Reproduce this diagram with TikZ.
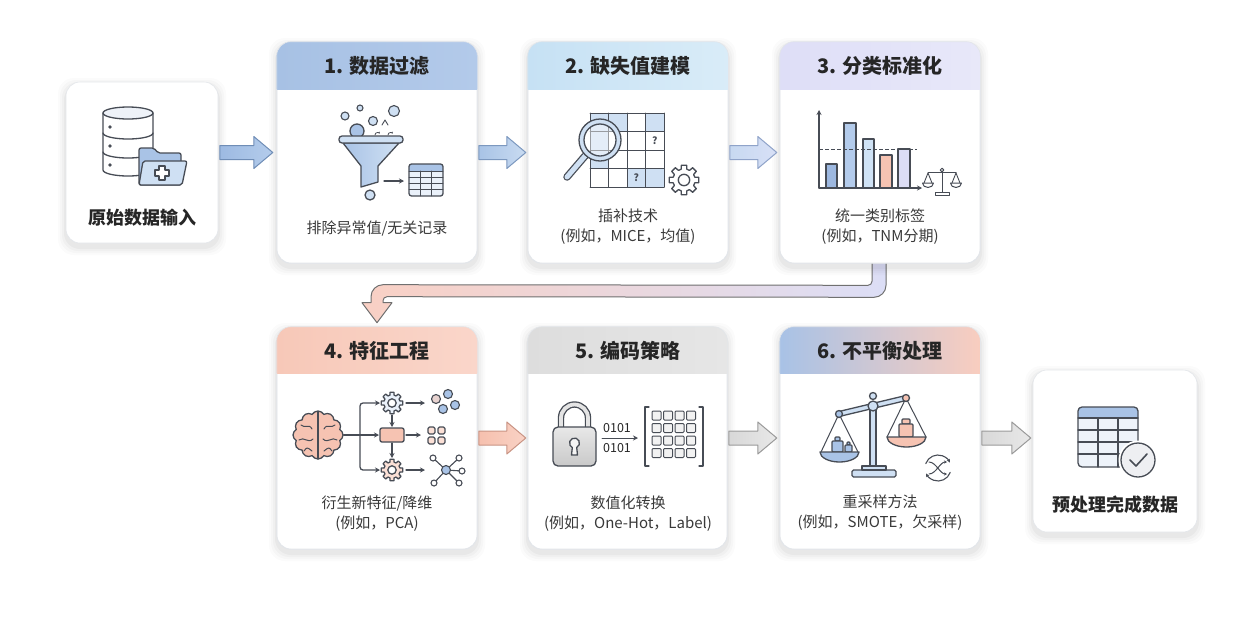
\documentclass[tikz,border=0pt]{standalone}
\usepackage{fontspec}
\setmainfont{Noto Sans CJK SC}
\usetikzlibrary{calc,arrows.meta,shapes.symbols}
\pgfdeclarelayer{back}
\pgfsetlayers{back,main}
\definecolor{ink}{HTML}{474C55}
\definecolor{bl}{HTML}{A9C3E6}
\definecolor{bll}{HTML}{CFE0F3}
\definecolor{sal}{HTML}{F6C3B2}
\definecolor{lav}{HTML}{DCDDF5}
\definecolor{txt}{HTML}{262626}
\definecolor{txtb}{HTML}{3A3A3A}
\definecolor{cardline}{HTML}{E3E6EA}
\newcommand\dc[1]{\definecolor{c#1}{HTML}{#1}}
\dc{A7C1E4}\dc{B3CAEA}\dc{C6E1F4}\dc{D9ECF8}\dc{DEDEF7}\dc{E8E8F9}\dc{F7C8B8}\dc{FAD6CA}
\dc{DDDDDD}\dc{E6E6E6}\dc{A8C2E6}\dc{F9CDBF}\dc{9DBAE2}\dc{B4CCEB}\dc{6F8DB6}\dc{A8C3E6}
\dc{C9DBF1}\dc{7C98BF}\dc{C7D9F1}\dc{D8E0F6}\dc{8FA3C9}\dc{F6C0AE}\dc{F9D2C5}\dc{C99484}
\dc{D8D8D8}\dc{E8E8E8}\dc{9A9A9A}\dc{F9D0C4}\dc{DCDEF6}\dc{707070}\dc{EEF2F8}\dc{EAF1FA}
\dc{9DB8E0}\dc{B3CBEB}\dc{CFE2F5}\dc{FBE0D6}\dc{E8D3D0}\dc{E4E4E4}\dc{F4F4F4}\dc{F2F2F2}
\dc{EEF3FA}\dc{EEEFF2}\dc{C9C9C9}

\newcommand{\mycard}[5]{%
  \foreach \k/\o in {8/0.015,6/0.02,4/0.025,2/0.03}{%
    \fill[black,opacity=\o,rounded corners=16pt] (#2-\k,#3-\k+4) rectangle (#4+\k,#5+\k+4);}
  \pgfmathsetmacro\cw{#4-#2}\pgfmathsetmacro\ch{#5-#3}%
  \node[card, minimum width=\cw pt, minimum height=\ch pt] (#1) at ({(#2+#4)/2},{(#3+#5)/2}) {};}

\newcommand{\myhdr}[3]{%
  \begin{scope}
    \clip[rounded corners=14pt] (#1.north west) rectangle (#1.south east);
    \path[#3] (#1.north west) rectangle ($(#1.north east)+(0,#2)$);
  \end{scope}
  \draw[cardline, line width=0.6pt, rounded corners=14pt] (#1.north west) rectangle (#1.south east);}

\newcommand{\myarrow}[4]{%
  \path[#4] ($(#1.east |- #2.west)+(1.5,-7)$) -- ++({#3-19},0) -- ++(0,-9) -- ++(19,16) -- ++(-19,16) -- ++(0,-9) -- ++({19-#3},0) -- cycle;}

\newcommand{\mygear}[4]{%
  \begin{scope}[shift={(#1,#2)}]
    \draw[ico, fill=#4] (-15:#3*0.74) \foreach \a in {0,45,...,315}{ -- (\a-15:#3*0.74) -- (\a-10:#3) -- (\a+10:#3) -- (\a+15:#3*0.74)} -- cycle;
    \draw[ico, fill=white] (0,0) circle[radius=#3*0.38];
  \end{scope}}

\begin{document}
\begin{tikzpicture}[x=1pt,y=-1pt,
  card/.style={rectangle, rounded corners=14pt, fill=white, draw=cardline, line width=0.6pt, inner sep=0pt},
  ico/.style={draw=ink, line width=1.3pt, line join=round, line cap=round},
  icoarrow/.style={-{Stealth[length=5pt,width=5pt]}},
  title/.style={font=\bfseries\fontsize{20pt}{24pt}\selectfont, text=txt, inner sep=0pt},
  bigt/.style={font=\bfseries\fontsize{18pt}{22pt}\selectfont, text=txt, inner sep=0pt},
  body/.style={font=\fontsize{15pt}{20pt}\selectfont, text=txtb, align=center, inner sep=0pt}]

\begin{pgfonlayer}{back}
\fill[white] (0,0) rectangle (1240,619);
\end{pgfonlayer}
\useasboundingbox (0,0) rectangle (1240,619);

% cards
\mycard{b0}{66}{82}{218}{243}
\mycard{b1}{277}{42}{477}{263}
\mycard{b2}{528}{42}{728}{263}
\mycard{b3}{780}{42}{980}{263}
\mycard{b4}{277}{327}{477}{549}
\mycard{b5}{528}{327}{727}{549}
\mycard{b6}{780}{327}{980}{549}
\mycard{b7}{1033}{370}{1197}{532}

\myhdr{b1}{48}{left color=cA7C1E4, right color=cB3CAEA}
\myhdr{b2}{48}{left color=cC6E1F4, right color=cD9ECF8}
\myhdr{b3}{48}{left color=cDEDEF7, right color=cE8E8F9}
\myhdr{b4}{47}{left color=cF7C8B8, right color=cFAD6CA}
\myhdr{b5}{47}{left color=cDDDDDD, right color=cE6E6E6}
\myhdr{b6}{47}{left color=cA8C2E6, right color=cF9CDBF}

% titles
\node[title] (h1) at (377,66) {1. 数据过滤};
\node[title] (h2) at (628,66) {2. 缺失值建模};
\node[title] (h3) at (880,66) {3. 分类标准化};
\node[title] (h4) at (377,350.5) {4. 特征工程};
\node[title] (h5) at (628,350.5) {5. 编码策略};
\node[title] (h6) at (880,350.5) {6. 不平衡处理};

% texts
\node[bigt] (t0) at (142,218) {原始数据输入};
\node[body] (d1) at (377,228) {排除异常值/无关记录};
\node[body] (d2) at (628,227) {插补技术\\(例如，MICE，均值)};
\node[body] (d3) at (880,227) {统一类别标签\\(例如，TNM分期)};
\node[body] (d4) at (377,514) {衍生新特征/降维\\(例如，PCA)};
\node[body] (d5) at (628,514) {数值化转换\\(例如，One-Hot，Label)};
\node[body] (d6) at (880,513) {重采样方法\\(例如，SMOTE，欠采样)};
\node[bigt] (t7) at (1115,505) {预处理完成数据};

% block arrows
\myarrow{b0}{b1}{53}{left color=c9DBAE2, right color=cB4CCEB, draw=c6F8DB6, line width=1pt, line join=round}
\myarrow{b1}{b1}{47}{left color=cA8C3E6, right color=cC9DBF1, draw=c7C98BF, line width=1pt, line join=round}
\myarrow{b2}{b2}{47}{left color=cC7D9F1, right color=cD8E0F6, draw=c8FA3C9, line width=1pt, line join=round}
\myarrow{b4}{b4}{47}{left color=cF6C0AE, right color=cF9D2C5, draw=cC99484, line width=1pt, line join=round}
\myarrow{b5}{b5}{48}{left color=cD8D8D8, right color=cE8E8E8, draw=c9A9A9A, line width=1pt, line join=round}
\myarrow{b6}{b6}{49}{left color=cD8D8D8, right color=cE8E8E8, draw=c9A9A9A, line width=1pt, line join=round}

% bent connector b3 -> b4 (explicit arcs)
\begin{pgfonlayer}{back}
\path[left color=cF9D0C4, right color=cDCDEF6, draw=c707070, line width=1pt, line join=round]
  ($(b3.south)+(6,-8)$) -- ($(b3.south)+(6,22)$) arc[start angle=0,end angle=90,radius=12]
  -- ($(b4.north)+(10,-30)$) arc[start angle=-90,end angle=-180,radius=4]
  -- ($(b4.north)+(6,-24)$) -- ($(b4.north)+(15,-24)$) -- ($(b4.north)+(0,-4)$)
  -- ($(b4.north)+(-15,-24)$) -- ($(b4.north)+(-6,-24)$) -- ($(b4.north)+(-6,-30)$)
  arc[start angle=180,end angle=270,radius=12]
  -- ($(b3.south)+(-12,22)$) arc[start angle=90,end angle=0,radius=4]
  -- ($(b3.south)+(-8,-8)$) -- cycle;
\end{pgfonlayer}

% ---- icon 0: database + folder
\draw[ico, fill=white] (103,113) -- (103,170) arc[start angle=180,end angle=0,x radius=25,y radius=6] -- (153,113);
\draw[ico] (103,133) arc[start angle=180,end angle=0,x radius=25,y radius=6];
\draw[ico] (103,152) arc[start angle=180,end angle=0,x radius=25,y radius=6];
\draw[ico, fill=cEEF2F8] (128,113) ellipse[x radius=25,y radius=6];
\foreach \yy in {127,146,165} \fill[ink] (110,\yy) circle[radius=1.8];
\draw[ico, fill=bl, rounded corners=2pt] (139,185) -- (139,148) -- (154,148) -- (158,153) -- (181,153) -- (181,185) -- cycle;
\draw[ico, fill=bll, rounded corners=2pt] (139,185) -- (143,161) -- (187,161) -- (182,185) -- cycle;
\draw[ico, fill=white, line width=1.1pt] (159,166) -- (165,166) -- (165,170) -- (169,170) -- (169,176) -- (165,176) -- (165,180) -- (159,180) -- (159,176) -- (155,176) -- (155,170) -- (159,170) -- cycle;

% ---- icon 1: funnel
\draw[ico, fill=bl] (357,131) circle[radius=7];
\draw[ico, fill=bll, line width=1.1pt] (345,116) circle[radius=4];
\draw[ico, fill=bll, line width=1.1pt] (360,108) circle[radius=3];
\draw[ico, fill=bll, line width=1.1pt] (373,121) circle[radius=4.5];
\draw[ico, fill=bll, line width=1.1pt] (394,111) circle[radius=5.5];
\draw[ico, line width=0.9pt] (382,125) -- (385,120) -- (388,125);
\draw[ico, line width=0.8pt, -{Stealth[length=2pt,width=2pt]}] (375,135) arc[start angle=180,end angle=330,radius=2.5];
\draw[ico, line width=0.8pt, -{Stealth[length=2pt,width=2pt]}] (388,135) arc[start angle=180,end angle=330,radius=2.5];
\draw[ico, left color=bl, right color=bll] (343,143) -- (399,143) -- (378,166) -- (378,182) -- (361,187) -- (361,166) -- cycle;
\draw[ico, fill=bll, rounded corners=3pt] (339,136) rectangle (403,143);
\draw[ico, fill=bll] (370,195) circle[radius=5];
\draw[ico, icoarrow] (384,181) -- (404,181);
\begin{scope}
  \clip[rounded corners=2.5pt] (409,164) rectangle (443,196);
  \fill[cEAF1FA] (409,164) rectangle (443,196);
  \fill[bl] (409,164) rectangle (443,171);
\end{scope}
\foreach \xx in {420.3,431.7} \draw[ico, line width=0.9pt] (\xx,171) -- (\xx,196);
\foreach \yy in {171,177.25,183.5,189.75} \draw[ico, line width=0.9pt] (409,\yy) -- (443,\yy);
\draw[ico, rounded corners=2.5pt] (409,164) rectangle (443,196);

% ---- icon 2: grid + magnifier + gear
\foreach \r/\c in {0/0,0/1,0/3,1/0,2/0,3/2,3/3} \fill[bll] (590+18.5*\c,113+18.5*\r) rectangle ++(18.5,18.5);
\foreach \i in {0,...,4}{
  \draw[ico, line width=1pt] (590+18.5*\i,113) -- (590+18.5*\i,187);
  \draw[ico, line width=1pt] (590,113+18.5*\i) -- (664,113+18.5*\i);}
\node[font=\bfseries\fontsize{10pt}{10pt}\selectfont, text=ink, inner sep=0pt] (q1) at (654.75,140.75) {?};
\node[font=\bfseries\fontsize{10pt}{10pt}\selectfont, text=ink, inner sep=0pt] (q2) at (636.25,177.75) {?};
\draw[ink, line width=7.5pt, line cap=round] (585,156) -- (567,177);
\draw[bll, line width=5pt, line cap=round] (585,156) -- (567,177);
\fill[white, opacity=0.45] (600,140) circle[radius=15];
\draw[ico, fill=bll, even odd rule] (600,140) circle[radius=21] (600,140) circle[radius=16];
\mygear{684}{180}{15}{white}

% ---- icon 3: bar chart + small scale
\draw[ico, fill=c9DB8E0] (826,188) rectangle (837,164);
\draw[ico, fill=cB3CBEB] (844,188) rectangle (856,123);
\draw[ico, fill=cCFE2F5] (863,188) rectangle (874,139);
\draw[ico, fill=sal] (880,188) rectangle (892,155);
\draw[ico, fill=lav] (898,188) rectangle (910,149);
\draw[ink, line width=1pt, dash pattern=on 3.5pt off 2.5pt] (819,149) -- (917,149);
\draw[ico, icoarrow] (819,188) -- (819,110);
\draw[ico, icoarrow] (819,188) -- (922,188);
\draw[ico, line width=1pt] (942,170) -- (942,192);
\draw[ico, line width=1pt, fill=white] (935,192) rectangle (949,195);
\draw[ico, line width=1pt] (928,172) -- (956,172);
\draw[ico, line width=1pt, fill=white] (942,170) circle[radius=1.8];
\draw[ico, line width=0.9pt] (924,183) -- (928,173) -- (932,183);
\draw[ico, line width=0.9pt] (952,183) -- (956,173) -- (960,183);
\draw[ico, line width=1pt, fill=white] (922.5,183) -- (933.5,183) arc[start angle=0,end angle=180,x radius=5.5,y radius=4.5] -- cycle;
\draw[ico, line width=1pt, fill=white] (950.5,183) -- (961.5,183) arc[start angle=0,end angle=180,x radius=5.5,y radius=4.5] -- cycle;

% ---- icon 4: brain + flows
\node[cloud, cloud puffs=12, cloud puff arc=120, aspect=1.05, draw=ink, fill=sal, line width=1.3pt, minimum width=50pt, minimum height=48pt, inner sep=0pt] (brain) at (318,435) {};
\draw[ico] (318,412) -- (318,459);
\draw[ico, line width=1pt] (301,425) .. controls (305,429) and (309,423) .. (312,429);
\draw[ico, line width=1pt] (299,440) .. controls (304,436) and (308,444) .. (313,439);
\draw[ico, line width=1pt] (304,451) .. controls (307,447) .. (312,451);
\draw[ico, line width=1pt] (335,425) .. controls (331,429) and (327,423) .. (324,429);
\draw[ico, line width=1pt] (337,440) .. controls (332,436) and (328,444) .. (323,439);
\draw[ico, line width=1pt] (332,451) .. controls (329,447) .. (324,451);
\coordinate (br) at (360,435);
\draw[ico] (brain.east) -- (br);
\draw[ico, rounded corners=3pt, icoarrow] (br) |- (380,403);
\draw[ico, rounded corners=3pt, icoarrow] (br) |- (380,470);
\draw[ico, icoarrow] (br) -- (379,435);
\mygear{392}{403}{11}{cEAF1FA}
\mygear{392}{470}{11}{cFBE0D6}
\draw[ico, fill=sal, rounded corners=2pt] (380,428) rectangle (404,442);
\draw[ico, icoarrow] (392,415) -- (392,427);
\draw[ico, icoarrow] (392,443) -- (392,458);
\draw[ico, icoarrow] (406,403) -- (425,403);
\draw[ico, icoarrow] (406,435) -- (421,435);
\draw[ico, icoarrow] (406,470) -- (425,470);
\draw[ico, fill=cE8D3D0, line width=1.1pt] (436,399) circle[radius=4.5];
\draw[ico, fill=bl, line width=1.1pt] (448,394) circle[radius=4.5];
\draw[ico, fill=bl, line width=1.1pt] (443,409) circle[radius=4.5];
\draw[ico, fill=bl, line width=1.1pt] (455,405) circle[radius=4.5];
\foreach \sx/\sy in {428/427,438/427,428/437,438/437}
  \draw[ico, fill=cFBE0D6, line width=1.1pt, rounded corners=1.5pt] (\sx,\sy) rectangle ++(7,7);
\foreach \nx/\ny in {433/458,459/458,462/471,434/483,459/483}{
  \draw[ico, line width=1.1pt] (446,470) -- (\nx,\ny);
  \draw[ico, fill=white, line width=1.1pt] (\nx,\ny) circle[radius=3];}
\draw[ico, fill=bl, line width=1.1pt] (446,470) circle[radius=4.5];

% ---- icon 5: lock + bits + matrix
\draw[ink, line width=6.4pt] (561,428) -- (561,418) arc[start angle=180,end angle=360,radius=13.5] -- (588,428);
\draw[cE4E4E4, line width=3.8pt] (561,429) -- (561,418) arc[start angle=180,end angle=360,radius=13.5] -- (588,429);
\draw[ico, top color=cE8E8E8, bottom color=cC9C9C9, rounded corners=5pt] (553,427) rectangle (596,466);
\draw[ico, fill=cF4F4F4] (576.7,447.5) arc[start angle=64,end angle=-244,radius=5] -- (571.5,455) -- (577.5,455) -- cycle;
\node[font=\fontsize{12.5pt}{13pt}\selectfont, text=txt, inner sep=0pt] (c1) at (617,428) {0101};
\node[font=\fontsize{12.5pt}{13pt}\selectfont, text=txt, inner sep=0pt] (c2) at (617,448) {0101};
\draw[ico, icoarrow, line width=1pt] (602,438) -- (638,438);
\draw[ico] (649,407) -- (645,407) -- (645,466) -- (649,466);
\draw[ico] (699,407) -- (703,407) -- (703,466) -- (699,466);
\foreach \r in {0,...,3} \foreach \c in {0,...,3}
  \draw[ico, line width=1pt, fill=cF2F2F2, rounded corners=1pt] (652+11.5*\c,411+12.5*\r) rectangle ++(9,9);

% ---- icon 6: balance + shuffle
\draw[ico, fill=bll, rounded corners=1.5pt] (852,470) rectangle (896,477);
\draw[ico, fill=bll] (862,466) rectangle (886,470);
\draw[ico, fill=bll] (870,404) rectangle (876,466);
\draw[ico, fill=bll] (873,396) circle[radius=3.5];
\draw[ico, fill=bll] (838.4,411.6) -- (905.4,395.6) -- (906.6,400.4) -- (839.6,416.4) -- cycle;
\draw[ico, fill=bll] (873,406) circle[radius=5];
\draw[ico, line width=1pt] (821,452) -- (839,414) -- (858,452);
\draw[ico, line width=1pt] (887,437) -- (906,398) -- (926,437);
\draw[ico, fill=bl] (839,414) circle[radius=3.5];
\draw[ico, fill=sal] (906,398) circle[radius=3.5];
\draw[ico, fill=bl, rounded corners=1pt] (835,437) rectangle (840,441);
\draw[ico, fill=bl, rounded corners=1pt] (832,441) rectangle (843,452);
\draw[ico, fill=bl, rounded corners=1pt] (847,442) rectangle (850,445);
\draw[ico, fill=bl, rounded corners=1pt] (845,445) rectangle (852,452);
\draw[ico, fill=bl] (820,452) -- (859,452) arc[start angle=0,end angle=180,x radius=19.5,y radius=10] -- cycle;
\draw[ico, fill=sal, rounded corners=1pt] (902,419) rectangle (910,424);
\draw[ico, fill=sal, rounded corners=1pt] (899,424) rectangle (913,437);
\draw[ico, fill=sal] (887,437) -- (926,437) arc[start angle=0,end angle=180,x radius=19.5,y radius=10] -- cycle;
\draw[ico, line width=1.1pt, -{Stealth[length=3.5pt,width=3.5pt]}] (938,468) ++(200:13) arc[start angle=200,end angle=335,radius=13];
\draw[ico, line width=1.1pt, -{Stealth[length=3.5pt,width=3.5pt]}] (938,468) ++(20:13) arc[start angle=20,end angle=155,radius=13];
\draw[ico, line width=1pt, -{Stealth[length=3pt,width=3pt]}] (929,462) .. controls (936,462) and (940,474) .. (947,474);
\draw[ico, line width=1pt, -{Stealth[length=3pt,width=3pt]}] (929,474) .. controls (936,474) and (940,462) .. (947,462);

% ---- icon 7: table + check
\begin{scope}
  \clip[rounded corners=4pt] (1078,407) rectangle (1138,467);
  \fill[cEEF3FA] (1078,407) rectangle (1138,467);
  \fill[bl] (1078,407) rectangle (1138,418);
\end{scope}
\foreach \xx in {1098,1118} \draw[ico, line width=1.1pt] (\xx,418) -- (\xx,467);
\foreach \yy in {418,430,442,454} \draw[ico, line width=1.1pt] (1078,\yy) -- (1138,\yy);
\draw[ico, rounded corners=4pt] (1078,407) rectangle (1138,467);
\fill[white] (1138,460) circle[radius=19.5];
\draw[ico, fill=cEEEFF2] (1138,460) circle[radius=17];
\draw[ico, line width=1.6pt] (1130,460) -- (1136,466) -- (1147,454);

\end{tikzpicture}
\end{document}
